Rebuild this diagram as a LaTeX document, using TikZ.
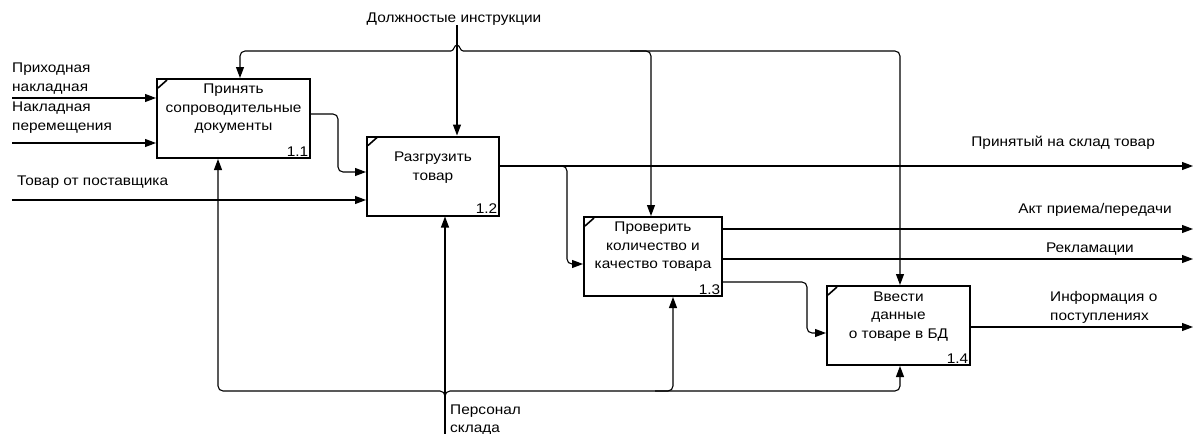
\documentclass[tikz,border=0pt]{standalone}
\usepackage{fontspec}
\setmainfont{Liberation Sans}[FakeStretch=1.1]
\usetikzlibrary{positioning,arrows.meta}

\begin{document}
\begin{tikzpicture}[x=1pt,y=-1pt,
    every node/.style={font=\fontsize{14}{18.5}\selectfont},
    box/.style={draw,line width=2pt,minimum width=#1,minimum height=79pt,inner sep=0pt},
    boxtxt/.style={align=center,inner sep=0pt},
    num/.style={anchor=south east,inner sep=2.5pt},
    lbl/.style={align=left,inner sep=0pt},
    wire/.style={line width=1.1pt},
    arr/.style={wire,-{Triangle[length=11pt,width=8pt]}},
    corner/.style={line width=1.6pt}]
    \useasboundingbox (0,0) rectangle (1195,434);
    %%%%% THE BOXES
    \node[box=153pt] (b1) at (233.5,118.5) {};
    \node[box=132pt] (b2) at (433,176) {};
    \node[box=138pt] (b3) at (653,256.5) {};
    \node[box=143pt] (b4) at (898.5,325.5) {};
    \node[boxtxt] (t1) at ([yshift=9.5pt]b1.center) {Принять\\сопроводительные\\документы};
    \node[boxtxt] (t2) at ([yshift=8.5pt]b2.center) {Разгрузить\\товар};
    \node[boxtxt] (t3) at ([yshift=9.5pt]b3.center) {Проверить\\количество и\\качество товара};
    \node[boxtxt] (t4) at ([yshift=9pt]b4.center) {Ввести\\данные\\о товаре в БД};
    \node[num] (n1) at (b1.south east) {1.1};
    \node[num] (n2) at (b2.south east) {1.2};
    \node[num] (n3) at (b3.south east) {1.3};
    \node[num] (n4) at (b4.south east) {1.4};
    % corner marks
    \draw[corner] ([xshift=2pt,yshift=-10pt]b1.north west) -- ([xshift=11pt,yshift=-2pt]b1.north west);
    \draw[corner] ([xshift=2pt,yshift=-10pt]b2.north west) -- ([xshift=11pt,yshift=-2pt]b2.north west);
    \draw[corner] ([xshift=2pt,yshift=-10pt]b3.north west) -- ([xshift=11pt,yshift=-2pt]b3.north west);
    \draw[corner] ([xshift=2pt,yshift=-10pt]b4.north west) -- ([xshift=11pt,yshift=-2pt]b4.north west);

    %%%%% THE LABELS
    \node[inner sep=0pt] (ctl) at (454,19) {Должностые инструкции};
    \node[lbl,anchor=west] (l1) at (12,78.5) {Приходная\\накладная};
    \node[lbl,anchor=west] (l2) at (12,117.5) {Накладная\\перемещения};
    \node[lbl,anchor=west] (l3) at (17,182) {Товар от поставщика};
    \node[lbl,anchor=east] (l4) at (1155,143) {Принятый на склад товар};
    \node[lbl,anchor=east] (l5) at (1172,210) {Акт приема/передачи};
    \node[lbl,anchor=east] (l6) at (1134,249) {Рекламации};
    \node[lbl,anchor=west] (l7) at (1050,307.5) {Информация о\\поступлениях};
    \node[lbl,anchor=west] (l8) at (450,420) {Персонал\\склада};

    %%%%% THE ARROWS
    \coordinate (in1) at (12,98);
    \coordinate (in2) at (12,143);
    \coordinate (in3) at (12,200);
    \coordinate (out2) at (1193,166);
    \coordinate (out3a) at (1193,229);
    \coordinate (out3b) at (1193,259);
    \coordinate (out4) at (1193,327);
    \coordinate (cx) at (457,51);
    \coordinate (jL) at (451,51);
    \coordinate (jR) at (463,51);
    \coordinate (mech) at (445,434);
    \coordinate (mj) at (445,391);
    % controls
    \draw[arr] (ctl.south -| cx) -- (cx |- b2.north);
    \draw[wire] (jL) .. controls (454,51) and (454,45) .. (457,45) .. controls (460,45) and (460,51) .. (jR);
    \draw[arr,rounded corners=5pt] (jL) -- (240,51) -- ([xshift=6.5pt]b1.north);
    \draw[arr,rounded corners=5pt] (jR) -- (900,51) -- ([xshift=1.5pt]b4.north);
    \draw[arr,rounded corners=5pt] (630,51) -- (651,51) -- ([xshift=-2pt]b3.north);
    % inputs
    \draw[arr] (in1) -- (in1 -| b1.west);
    \draw[arr] (in2) -- (in2 -| b1.west);
    \draw[arr] (in3) -- (in3 -| b2.west);
    \draw[arr,rounded corners=5pt] ([yshift=4.5pt]b1.east) -- (338,114) -- (338,172) -- ([yshift=4pt]b2.west);
    % outputs
    \draw[arr] ([yshift=10pt]b2.east) -- (out2);
    \draw[arr,rounded corners=5pt] ([yshift=10pt]b2.east) -- (567,166) -- (567,264) -- ([yshift=-7.5pt]b3.west);
    \draw[arr] ([yshift=27.5pt]b3.east) -- (out3a);
    \draw[arr] ([yshift=-2.5pt]b3.east) -- (out3b);
    \draw[arr,rounded corners=5pt] ([yshift=-25.5pt]b3.east) -- (807,282) -- (807,333) -- ([yshift=-7.5pt]b4.west);
    \draw[arr] ([yshift=-1.5pt]b4.east) -- (out4);
    % mechanisms
    \draw[arr] (mech) -- (mech |- b2.south);
    \draw[arr,rounded corners=5pt] ([yshift=-10pt]mj) -- (mj) -- (218,391) -- ([xshift=-15.5pt]b1.south);
    \draw[arr,rounded corners=5pt] ([yshift=-10pt]mj) -- (mj) -- (900,391) -- ([xshift=1.5pt]b4.south);
    \draw[arr,rounded corners=5pt] (655,391) -- (673,391) -- ([xshift=20pt]b3.south);
\end{tikzpicture}
\end{document}
